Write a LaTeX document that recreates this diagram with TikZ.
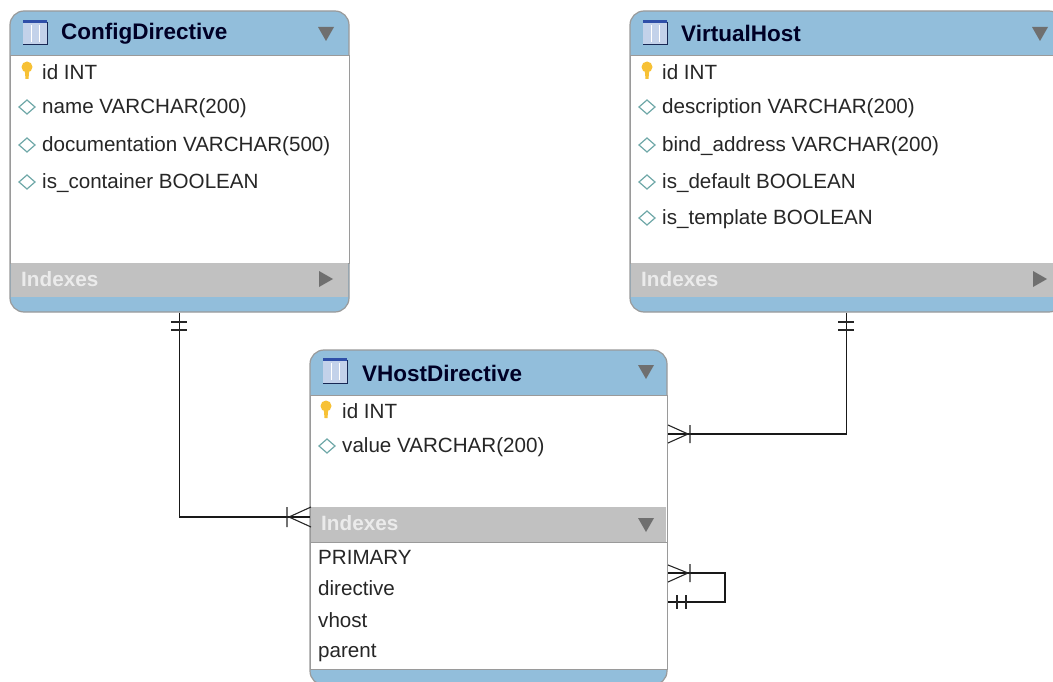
\documentclass[tikz,border=0pt]{standalone}
\usepackage{fontspec}
\setmainfont{Liberation Sans}
\definecolor{headblue}{HTML}{92BEDB}
\definecolor{indexgrey}{HTML}{C1C1C1}
\definecolor{edgegrey}{HTML}{9A9A9A}
\definecolor{markgrey}{HTML}{6F6F6F}
\definecolor{difteal}{HTML}{6FA8A8}
\definecolor{keyyellow}{HTML}{F7C135}
\definecolor{icondark}{HTML}{2F4FA8}
\definecolor{iconlight}{HTML}{C3D2EA}
\tikzset{
    tablebox/.style={draw=edgegrey, line width=1.2pt, fill=headblue, rounded corners=14pt, inner sep=0pt},
    bodyarea/.style={draw=edgegrey, line width=1pt, fill=white},
    indexarea/.style={draw=none, fill=indexgrey},
    titlelabel/.style={anchor=base west, inner sep=0pt, font=\fontsize{22.5}{24}\selectfont\bfseries, text=black!85!blue},
    rowlabel/.style={anchor=base west, inner sep=0pt, font=\fontsize{20.6}{22}\selectfont, text=black!85},
    indexlabel/.style={anchor=base west, inner sep=0pt, font=\fontsize{20.7}{22}\selectfont\bfseries, text=white!92!black},
    relation/.style={black!90, line width=1.8pt},
    marker/.style={black!85, line width=1.1pt},
}
\newcommand{\tableicon}[2]{
    \fill[iconlight] (#1, #2) rectangle ++(24, 25);
    \draw[white, line width=1pt] (#1+8, #2+5) -- ++(0, 17) (#1+16, #2+5) -- ++(0, 17);
    \fill[icondark] (#1, #2) rectangle ++(24, 3);
    \draw[black!50!icondark, line width=1pt] (#1+24, #2+2) -- ++(0, 23) -- ++(-24, 0);
}
\newcommand{\keyicon}[2]{
    \fill[keyyellow] (#1, #2-4) circle (5.5pt);
    \fill[keyyellow] (#1-2.5, #2-4) -- (#1+2.5, #2-4) -- (#1+1.5, #2+8) -- (#1-1.5, #2+8) -- cycle;
}
\newcommand{\diamondicon}[2]{
    \draw[difteal, line width=1.2pt, fill=white] (#1-8, #2) -- (#1, #2-7) -- (#1+8, #2) -- (#1, #2+7) -- cycle;
}
\newcommand{\downtriangle}[2]{
    \fill[markgrey] (#1-8, #2-7) -- (#1+8, #2-7) -- (#1, #2+7) -- cycle;
}
\newcommand{\righttriangle}[2]{
    \fill[markgrey] (#1-7, #2-8) -- (#1+7, #2) -- (#1-7, #2+8) -- cycle;
}
\begin{document}
\begin{tikzpicture}[x=1pt, y=-1pt]
    \useasboundingbox (0, 0) rectangle (1053, 682);
    \clip (0, 0) rectangle (1053, 682);
    % ConfigDirective
    \node[tablebox, minimum width=339pt, minimum height=301pt] (configdirective) at (179.5, 161.5) {};
    \draw[bodyarea] (10, 56) rectangle (349, 263);
    \fill[indexarea] (10.6, 263) rectangle (348.4, 297);
    \tableicon{23}{20}
    \node[titlelabel] (configtitle) at (61, 40) {ConfigDirective};
    \downtriangle{326}{34}
    \keyicon{27}{71}
    \foreach \rowy/\rowname in {114/name VARCHAR(200), 152/documentation VARCHAR(500), 189/is\_container BOOLEAN} {
        \diamondicon{27}{\rowy-7}
        \node[rowlabel] (configrow\rowy) at (42, \rowy) {\rowname};
    }
    \node[rowlabel] (configid) at (42, 80) {id INT};
    \node[indexlabel] (configindex) at (21, 286) {Indexes};
    \righttriangle{326}{279}
    % VirtualHost
    \node[tablebox, minimum width=433pt, minimum height=301pt] (virtualhost) at (846.5, 161.5) {};
    \draw[bodyarea] (630, 56) rectangle (1063, 263);
    \fill[indexarea] (630.6, 263) rectangle (1062, 297);
    \tableicon{643}{20}
    \node[titlelabel] (hosttitle) at (681, 42) {VirtualHost};
    \downtriangle{1040}{34}
    \keyicon{647}{71}
    \foreach \rowy/\rowname in {114/description VARCHAR(200), 152/bind\_address VARCHAR(200), 189/is\_default BOOLEAN, 225/is\_template BOOLEAN} {
        \diamondicon{647}{\rowy-7}
        \node[rowlabel] (hostrow\rowy) at (662, \rowy) {\rowname};
    }
    \node[rowlabel] (hostid) at (662, 80) {id INT};
    \node[indexlabel] (hostindex) at (641, 286) {Indexes};
    \righttriangle{1040}{279}
    % VHostDirective
    \node[tablebox, minimum width=357pt, minimum height=335pt] (vhostdirective) at (488.5, 517.5) {};
    \draw[bodyarea] (310, 395) rectangle (667, 669);
    \fill[indexarea] (310.6, 507) rectangle (666.4, 542);
    \draw[edgegrey, line width=1pt] (310, 542) -- (667, 542);
    \tableicon{323}{358}
    \node[titlelabel] (directivetitle) at (362, 381) {VHostDirective};
    \downtriangle{646}{372}
    \keyicon{326}{410}
    \diamondicon{327}{446}
    \node[rowlabel] (directiveid) at (342, 418) {id INT};
    \node[rowlabel] (directivevalue) at (342, 452) {value VARCHAR(200)};
    \node[indexlabel] (directiveindex) at (321, 530) {Indexes};
    \downtriangle{646}{525}
    \foreach \rowy/\rowname in {564/PRIMARY, 595/directive, 627/vhost, 657/parent} {
        \node[rowlabel] (directiverow\rowy) at (318, \rowy) {\rowname};
    }
    % relations
    \coordinate (configend) at (310, 517);
    \coordinate (hostend) at (668, 434);
    \coordinate (loopstart) at (668, 573);
    \coordinate (loopturn) at (725, 588);
    \coordinate (loopend) at (668, 602);
    \draw[relation] (configdirective.south) |- (configend);
    \draw[relation] (virtualhost.south) |- (hostend);
    \draw[relation] (loopstart) -| (loopturn) |- (loopend);
    % ends of the relations
    \draw[marker] (171, 322) -- (187, 322) (171, 330) -- (187, 330);
    \draw[marker] (838, 322) -- (854, 322) (838, 330) -- (854, 330);
    \draw[marker] (287, 507) -- (287, 527) (311, 507) -- (289, 517) -- (311, 527);
    \draw[marker] (690, 425) -- (690, 443) (668, 425) -- (688, 434) -- (668, 443);
    \draw[marker] (690, 564) -- (690, 582) (668, 565) -- (688, 573) -- (668, 582);
    \draw[marker] (677, 595) -- (677, 609) (686, 595) -- (686, 609);
\end{tikzpicture}
\end{document}
